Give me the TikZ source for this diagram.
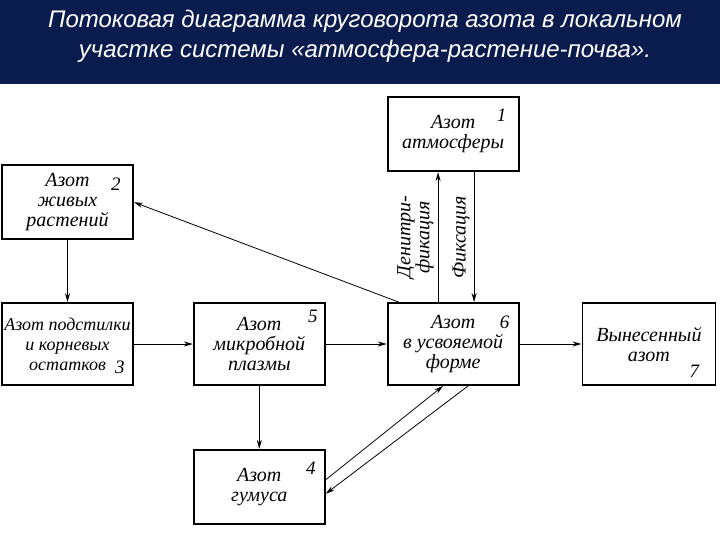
\documentclass[tikz,border=0pt]{standalone}
\usepackage{fontspec}
\setmainfont{Liberation Serif}
\newfontfamily\titlefont{Liberation Sans}
\usetikzlibrary{arrows.meta, positioning}
\definecolor{headnavy}{RGB}{10,27,78}

\begin{document}
\begin{tikzpicture}[
    x=1pt, y=-1pt,
    node distance=61pt,
    pool/.style={rectangle, draw=black, line width=1.8pt, minimum width=131pt, minimum height=82pt, inner sep=2pt, align=center, font=\fontsize{20}{20}\selectfont\itshape},
    flat/.style={pool, minimum height=74pt},
    num/.style={anchor=north east, inner sep=0pt, font=\fontsize{19}{20}\selectfont\itshape},
    arrow/.style={-{Stealth[length=9pt, width=5pt]}, line width=0.8pt},
    flowtext/.style={anchor=south, rotate=90, inner sep=4pt, align=center, font=\fontsize{20}{16}\selectfont\itshape}
]
\useasboundingbox (0,0) rectangle (720,540);
\fill[headnavy] (0,0) rectangle (720,84);
\node[font=\titlefont\itshape\fontsize{24}{30}\selectfont, text=white, align=center] (title) at (365,36) {Потоковая диаграмма круговорота азота в локальном\\участке системы «атмосфера-растение-почва».};

\node[pool, inner sep=0.5pt, font=\fontsize{18}{20}\selectfont\itshape, label={[num, anchor=south east, xshift=-9pt, yshift=12pt]south east:3}] (b3) at (67.5,344) {Азот подстилки\\и корневых\\остатков\hspace{1.2em}};
\node[pool, right=59pt of b3, label={[num, xshift=-8pt, yshift=-8pt]north east:5}] (b5) {Азот\\микробной\\плазмы};
\node[pool, right=of b5, label={[num, xshift=-10pt, yshift=-14pt]north east:6}] (b6) {Азот\\в усвояемой\\форме};
\node[pool, right=62pt of b6, minimum width=133pt, label={[num, anchor=south east, xshift=-17pt, yshift=8pt]south east:7}] (b7) {Вынесенный\\азот};
\node[flat, above=62pt of b3, label={[num, xshift=-13pt, yshift=-13pt]north east:2}] (b2) {Азот\\живых\\растений};
\node[flat, above=130pt of b6, label={[num, xshift=-13pt, yshift=-12pt]north east:1}] (b1) {Азот\\атмосферы};
\node[flat, below=63pt of b5, label={[num, xshift=-10pt, yshift=-13pt]north east:4}] (b4) {Азот\\гумуса};

\draw[arrow] (b2) -- (b3);
\draw[arrow] (b3) -- (b5);
\draw[arrow] (b5) -- (b6);
\draw[arrow] (b6) -- (b7);
\draw[arrow] (b5) -- (b4);
\draw[arrow] ([xshift=-15pt]b6.north) -- node[flowtext] {Денитри-\\фикация} ([xshift=-15pt]b1.south);
\draw[arrow] ([xshift=21pt]b1.south) -- node[flowtext] {Фиксация} ([xshift=21pt]b6.north);
\draw[arrow] ([xshift=12pt]b6.north west) -- (b2.east);
\draw[arrow] ([yshift=7pt]b4.east) -- ([xshift=-10pt]b6.south);
\draw[arrow] ([xshift=15pt]b6.south) -- ([yshift=-7pt]b4.east);

\end{tikzpicture}
\end{document}
